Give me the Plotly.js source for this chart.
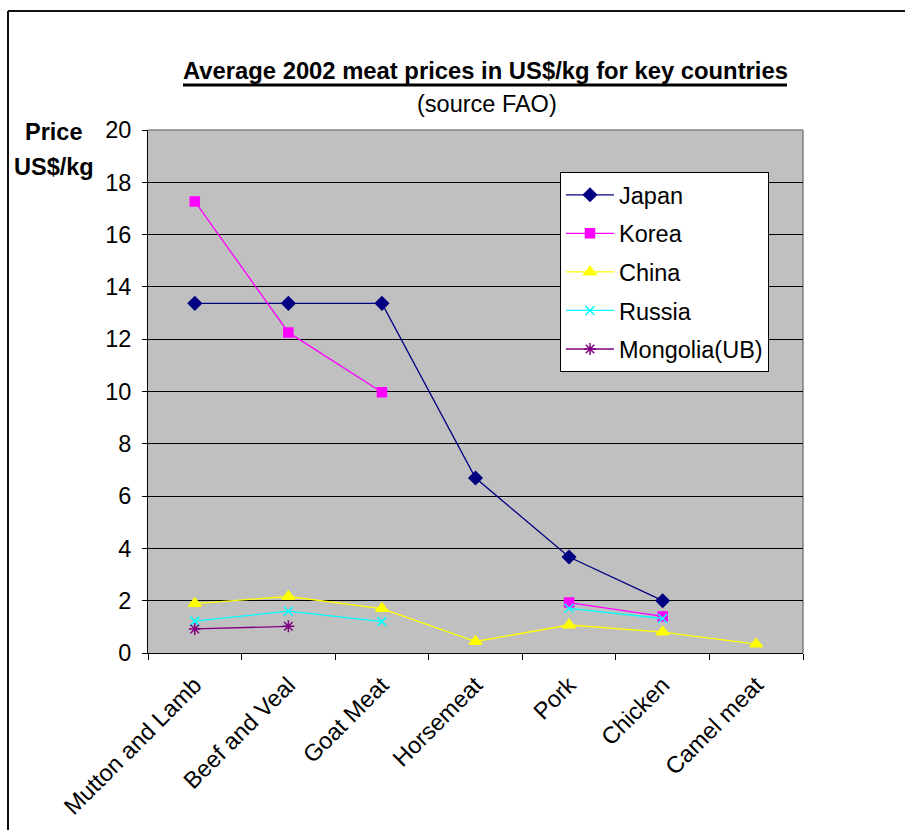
<!DOCTYPE html>
<html>
<head>
<meta charset="utf-8">
<script src="https://cdn.plot.ly/plotly-3.0.1.min.js"></script>
<style>
  html, body { margin: 0; padding: 0; background: #ffffff; }
  #chart { width: 905px; height: 830px; }
</style>
</head>
<body>
<div id="chart"></div>
<script>
// ---- Data ----
const categories = ["Mutton and Lamb", "Beef and Veal", "Goat Meat", "Horsemeat", "Pork", "Chicken", "Camel meat"];
const japan    = [13.37, 13.37, 13.37, 6.69, 3.67, 2.00, null];
const korea    = [17.27, 12.26, 9.97, null, 1.93, 1.40, null];
const china    = [1.89, 2.16, 1.70, 0.44, 1.07, 0.80, 0.34];
const russia   = [1.22, 1.60, 1.20, null, 1.71, 1.32, null];
const mongolia = [0.92, 1.02, null, null, null, null, null];
const seriesNames = ["Japan", "Korea", "China", "Russia", "Mongolia(UB)"];
const yTicks = [0, 2, 4, 6, 8, 10, 12, 14, 16, 18, 20];
const titleText = "Average 2002 meat prices in US$/kg for key countries";
const subtitleText = "(source FAO)";
const yTitleLines = ["Price", "US$/kg"];

// ---- Layout geometry (pixels) ----
const W = 905, H = 830;
const L = 148, R = 803, T = 130, B = 653;
const px = x => (x - L) / (R - L);
const py = y => (B - y) / (B - T);
const FONT = "Arial, 'Liberation Sans', sans-serif";
const FS = 23.5;

function mk(name, y, color, symbol, size, lw) {
  return {
    type: "scatter", mode: "lines+markers", name: name, x: categories, y: y,
    connectgaps: false, legendgroup: name,
    line: { color: color, width: lw || 1.3 },
    marker: { color: color, symbol: symbol, size: size, line: { color: color, width: 1.5 } }
  };
}

const data = [
  mk(seriesNames[0], japan, "#000080", "diamond", 10),
  mk(seriesNames[1], korea, "#FF00FF", "square", 9),
  mk(seriesNames[2], china, "#FFFF00", "triangle-up", 11),
  mk(seriesNames[3], russia, "#00FFFF", "x-thin-open", 9),
  mk(seriesNames[4], mongolia, "#800080", "asterisk-open", 10)
];

const layout = {
  width: W, height: H,
  margin: { l: L, r: W - R, t: T, b: H - B, pad: 0 },
  paper_bgcolor: "#ffffff",
  plot_bgcolor: "#C0C0C0",
  font: { family: FONT, size: FS, color: "#000000" },
  showlegend: true,
  legend: {
    x: px(560), y: py(172), xanchor: "left", yanchor: "top",
    bgcolor: "#ffffff", bordercolor: "#000000", borderwidth: 1,
    font: { family: FONT, size: FS, color: "#000000" },
    traceorder: "grouped", tracegroupgap: 5, itemwidth: 48
  },
  xaxis: {
    type: "category", categoryorder: "array", categoryarray: categories,
    range: [-0.5, categories.length - 0.5],
    showgrid: false, zeroline: false,
    showline: true, linecolor: "#000000", linewidth: 1,
    ticks: "outside", tickson: "boundaries", ticklen: 6, tickcolor: "#000000",
    tickangle: -45,
    tickfont: { family: FONT, size: FS, color: "#000000" },
    ticklabelstandoff: 8,
    fixedrange: true
  },
  yaxis: {
    range: [0, 20], tickmode: "array", tickvals: yTicks, ticktext: yTicks.map(String),
    showgrid: true, gridcolor: "#000000", gridwidth: 1,
    zeroline: false,
    showline: true, linecolor: "#000000", linewidth: 1,
    ticks: "outside", ticklen: 5, tickcolor: "#000000",
    tickfont: { family: FONT, size: FS, color: "#000000" },
    ticklabelstandoff: 6,
    fixedrange: true
  },
  annotations: [
    { xref: "paper", yref: "paper", x: px(485), y: py(71), xanchor: "center", yanchor: "middle",
      text: "<b>" + titleText + "</b>", showarrow: false, font: { family: FONT, size: 23.8, color: "#000" } },
    { xref: "paper", yref: "paper", x: px(487), y: py(104), xanchor: "center", yanchor: "middle",
      text: subtitleText, showarrow: false, font: { family: FONT, size: FS, color: "#000" } },
    { xref: "paper", yref: "paper", x: px(54), y: py(132), xanchor: "center", yanchor: "middle",
      text: "<b>" + yTitleLines[0] + "</b>", showarrow: false, font: { family: FONT, size: FS, color: "#000" } },
    { xref: "paper", yref: "paper", x: px(54), y: py(167), xanchor: "center", yanchor: "middle",
      text: "<b>" + yTitleLines[1] + "</b>", showarrow: false, font: { family: FONT, size: FS, color: "#000" } }
  ],
  shapes: [
    // title underline
    { type: "line", xref: "paper", yref: "paper", x0: px(183), x1: px(787), y0: py(85), y1: py(85),
      line: { color: "#000000", width: 3 } },
    // plot border top/right (gray)
    { type: "line", xref: "paper", yref: "paper", x0: 0, x1: 1, y0: 1, y1: 1,
      line: { color: "#808080", width: 1.5 }, layer: "between" },
    { type: "line", xref: "paper", yref: "paper", x0: 1, x1: 1, y0: 0, y1: 1,
      line: { color: "#808080", width: 1.5 }, layer: "between" },
    // outer frame (top and left)
    { type: "line", xref: "paper", yref: "paper", x0: px(8), x1: px(910), y0: py(11), y1: py(11),
      line: { color: "#111111", width: 2 } },
    { type: "line", xref: "paper", yref: "paper", x0: px(8), x1: px(8), y0: py(11), y1: py(840),
      line: { color: "#111111", width: 2 } }
  ]
};

Plotly.newPlot("chart", data, layout, { displayModeBar: false, staticPlot: true });
</script>
</body>
</html>
